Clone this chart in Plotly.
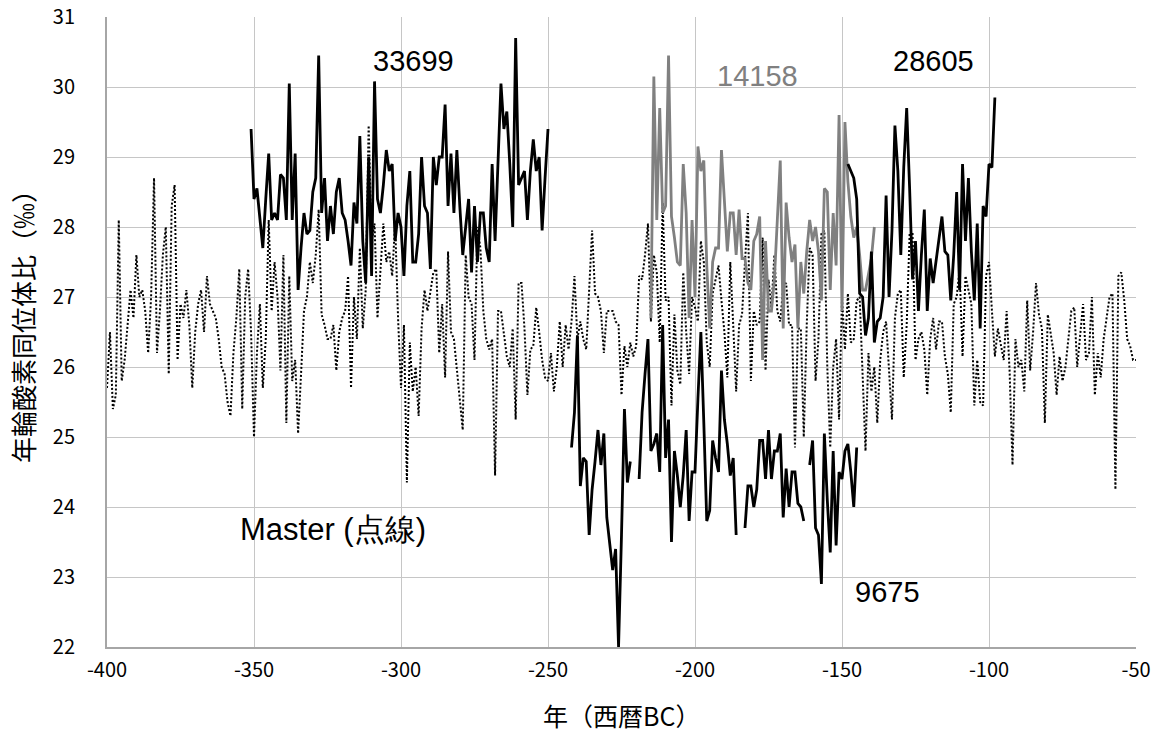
import plotly.graph_objects as go

# ---------------- data ----------------
master_start = -400
master_vals = [
    25.7, 26.5, 25.4, 25.6, 28.1, 25.8, 26.1, 26.6, 27.1, 26.7,   # -400
    27.6, 27.0, 27.1, 26.8, 26.2, 27.0, 28.7, 26.2, 26.8, 27.6,   # -390
    28.0, 25.9, 28.3, 28.6, 26.1, 26.9, 26.7, 27.1, 26.6, 25.7,   # -380
    26.5, 26.9, 27.1, 26.5, 27.3, 26.9, 26.8, 26.7, 26.4, 26.0,   # -370
    25.9, 25.5, 25.3, 26.2, 26.7, 27.4, 25.4, 27.0, 27.4, 26.5,   # -360
    25.0, 26.2, 26.9, 25.7, 26.4, 28.1, 26.8, 27.5, 27.0, 25.95,  # -350
    27.6, 25.2, 27.3, 25.8, 26.1, 25.05, 25.9, 26.8, 27.0, 27.5,  # -340
    27.2, 27.6, 28.25, 26.75, 26.6, 26.4, 26.4, 26.6, 25.95, 26.5,  # -330
    26.7, 26.8, 27.3, 25.7, 27.0, 26.4, 27.7, 26.55, 27.1, 29.45,   # -320
    27.8, 28.05, 26.7, 27.35, 28.05, 27.5, 27.65, 27.3, 28.05, 26.7,  # -310
    25.7, 26.6, 24.35, 26.35, 25.65, 26.0, 25.3, 26.55, 27.1, 26.8,  # -300
    27.1, 27.35, 27.4, 26.2, 26.9, 25.85, 27.65, 26.5, 26.4, 26.0,  # -290
    25.5, 25.1, 27.6, 27.0, 26.9, 26.1, 28.0, 27.7, 26.8, 26.4,   # -280
    26.25, 26.4, 24.45, 26.8, 26.8, 26.5, 26.15, 26.0, 26.55, 25.25,  # -270
    27.2, 27.2, 26.55, 25.6, 26.25, 26.3, 26.85, 26.5, 26.1, 25.85,  # -260
    25.8, 26.2, 25.65, 26.0, 26.65, 26.0, 26.6, 26.25, 26.65, 27.3,  # -250
    26.4, 26.65, 26.4, 26.25, 27.05, 27.95, 27.05, 27.0, 26.8, 26.2,  # -240
    26.8, 26.8, 26.8, 26.65, 26.6, 25.6, 26.3, 26.0, 26.35, 26.15,  # -230
    26.3, 27.3, 27.25, 27.6, 28.05, 26.65, 27.6, 27.35, 26.35, 28.35,  # -220
    26.95, 27.0, 25.45, 26.75, 25.95, 25.75, 27.35, 26.5, 25.9, 27.0,  # -210
    26.85, 26.65, 27.8, 27.5, 26.35, 26.0, 27.05, 27.25, 27.45, 26.95,  # -200
    26.5, 25.85, 27.5, 26.6, 25.65, 26.6, 26.75, 27.5, 28.2, 25.8,  # -190
    26.8, 26.6, 26.65, 27.85, 25.95, 27.25, 26.85, 27.6, 26.8, 26.65,  # -180
    27.15, 27.2, 26.6, 26.6, 24.85, 26.55, 26.55, 25.0, 26.6, 27.7,  # -170
    27.6, 25.8, 26.4, 27.9, 27.95, 26.0, 24.85, 26.0, 26.4, 25.25,  # -160
    27.0, 26.25, 27.05, 26.35, 26.4, 26.95, 27.0, 25.9, 24.8, 26.2,  # -150
    25.65, 26.0, 25.2, 26.1, 26.5, 26.65, 25.95, 25.25, 26.7, 27.05,  # -140
    27.1, 25.85, 26.6, 27.9, 27.9, 26.1, 26.4, 26.5, 26.25, 25.6,  # -130
    26.4, 26.7, 26.25, 26.65, 26.65, 26.15, 25.9, 25.35, 26.9, 27.0,  # -120
    27.4, 26.15, 27.3, 27.1, 26.9, 25.45, 26.1, 25.5, 25.45, 27.3,  # -110
    27.5, 26.8, 26.15, 26.55, 26.35, 26.1, 26.8, 25.95, 24.6, 26.4,  # -100
    26.0, 26.1, 25.65, 26.95, 25.95, 26.5, 27.2, 26.75, 26.55, 25.2,  # -90
    26.75, 26.5, 26.2, 25.6, 26.15, 25.8, 26.0, 26.4, 26.8, 26.85,  # -80
    26.0, 26.45, 26.9, 26.1, 26.2, 27.0, 25.6, 26.2, 25.85, 26.4,  # -70
    26.7, 27.0, 27.05, 24.25, 27.3, 27.35, 26.95, 26.4, 26.3, 26.1,  # -60
    26.1,                                                           # -50
]

s33699_start = -351
s33699_vals = [
    29.4, 28.4, 28.55, 28.1, 27.7, 28.4, 29.05, 28.1, 28.2, 28.1,
    28.75, 28.7, 28.1, 30.05, 28.1, 29.05, 27.1, 27.7, 28.2, 27.9,
    27.95, 28.5, 28.7, 30.45, 28.2, 28.7, 27.8, 28.3, 27.9, 28.5,
    28.7, 28.2, 28.1, 27.8, 27.45, 28.35, 28.05, 29.3, 27.8, 27.2,
    29.0, 27.3, 30.08, 28.4, 28.2, 28.6, 29.1, 28.8, 28.9, 27.8,
    28.2, 28.0, 27.3, 28.3, 28.8, 27.5, 27.5, 27.9, 29.0, 28.3,
    28.2, 27.4, 29.0, 28.6, 29.0, 29.0, 29.75, 28.3, 29.05, 28.2,
    29.1, 28.3, 27.6, 28.0, 28.4, 27.35, 28.3, 27.5, 28.2, 28.2,
    27.7, 27.5, 28.9, 27.8, 29.0, 30.05, 29.4, 29.65, 28.9, 28.0,
    30.7, 28.6, 28.7, 28.8, 28.1, 28.8, 29.25, 28.8, 29.0, 27.95,
    28.7, 29.4,
]

s9675_start = -242
s9675_vals = [
    24.85, 25.35, 26.45, 24.3, 24.7, 24.65, 23.6, 24.25, 24.65, 25.1,
    24.6, 25.05, 23.85, 23.5, 23.1, 23.4, 22.0, 23.6, 25.4, 24.35,
    24.65, None, None, 24.4, 25.35, 25.9, 26.4, 24.8, 24.9, 25.05,
    24.5, 26.6, 24.7, 25.25, 23.5, 24.8, 24.45, 24.0, 24.45, 25.1,
    23.8, 24.5, 24.5, 25.55, 26.5, 25.2, 23.8, 23.95, 24.95, 24.7,
    24.5, 25.95, 25.25, 24.9, 24.45, 24.7, 23.6, None, None, 23.7,
    24.3, 24.3, 24.0, 24.25, 24.95, 24.95, 24.4, 25.1, 24.4, 24.8,
    24.8, 25.05, 23.85, 24.55, 24.0, 24.5, 24.5, 24.05, 24.0, 23.8,
    None, 24.6, 24.95, 23.7, 23.6, 22.9, 25.05, 24.1, 23.35, 24.8,
    23.45, 24.5, 24.4, 24.8, 24.9, 24.5, 24.0, 24.85,
]

s14158_start = -215
s14158_vals = [
    26.7, 30.15, 28.1, 29.7, 28.2, 28.3, 30.45, 28.15, 27.85, 27.5,
    27.45, 28.9, 28.2, 26.7, 28.1, 27.0, 29.15, 28.8, 28.95, 27.45,
    26.55, 27.5, 27.7, 27.7, 29.1, 28.35, 27.65, 28.2, 28.2, 27.6,
    28.25, 27.55, 27.55, 27.2, 27.1, 27.8, 27.9, 28.15, 26.1, 27.8,
    26.8, 26.8, 27.25, 28.1, 28.95, 26.55, 28.35, 27.85, 27.5, 27.75,
    26.55, 27.5, 27.05, 27.65, 28.1, 27.8, 28.0, 27.65, 26.95, 28.55,
    28.5, 27.1, 28.2, 27.45, 29.6, 26.8, 29.5, 28.65, 28.15, 27.85,
    28.0, 27.6, 27.1, 27.1, 27.3, 27.55, 28.0,
]

s28605_start = -148
s28605_vals = [
    28.9, 28.8, 28.7, 28.4, 27.05, 27.0, 26.45, 26.7, 27.65, 26.35,
    26.65, 26.7, 27.0, 28.45, 27.0, 27.95, 29.45, 28.8, 27.6, 28.85,
    29.7, 28.55, 27.25, 27.8, 26.8, 27.6, 28.25, 26.8, 27.55, 27.2,
    27.5, 27.85, 28.15, 27.65, 27.6, 26.95, 27.6, 28.5, 27.1, 28.9,
    27.8, 28.7, 27.65, 26.95, 28.05, 26.55, 28.3, 28.15, 28.9, 28.85,
    29.85,
]

x_ticks = [-400, -350, -300, -250, -200, -150, -100, -50]
x_tick_text = ["-400", "-350", "-300", "-250", "-200", "-150", "-100", "-50"]
y_ticks = [22, 23, 24, 25, 26, 27, 28, 29, 30, 31]

labels = ["33699", "14158", "28605", "9675", "Master (点線)"]
label_x = [-295.6, -178.6, -119.0, -134.5, -323.0]
label_y = [30.37, 30.16, 30.37, 22.78, 23.68]
label_colors = ["#000000", "#808080", "#000000", "#000000", "#000000"]
label_sizes = [29, 29, 29, 29, 31]

x_title = "年（西暦BC）"
y_title = "年輪酸素同位体比（‰）"


def years(start, vals):
    return list(range(start, start + len(vals)))


fig = go.Figure()

fig.add_trace(go.Scatter(
    x=years(master_start, master_vals), y=master_vals, mode="lines",
    name="Master", line=dict(color="#000000", width=2, dash="2px,2px"),
))
fig.add_trace(go.Scatter(
    x=years(s33699_start, s33699_vals), y=s33699_vals, mode="lines",
    name="33699", line=dict(color="#000000", width=2.8),
))
fig.add_trace(go.Scatter(
    x=years(s9675_start, s9675_vals), y=s9675_vals, mode="lines",
    name="9675", line=dict(color="#000000", width=2.8), connectgaps=False,
))
fig.add_trace(go.Scatter(
    x=years(s14158_start, s14158_vals), y=s14158_vals, mode="lines",
    name="14158", line=dict(color="#808080", width=2.8),
))
fig.add_trace(go.Scatter(
    x=years(s28605_start, s28605_vals), y=s28605_vals, mode="lines",
    name="28605", line=dict(color="#000000", width=2.8),
))

for t, lx, ly, c, sz in zip(labels, label_x, label_y, label_colors, label_sizes):
    fig.add_annotation(x=lx, y=ly, text=t, showarrow=False,
                       font=dict(family="Liberation Sans, Arial, sans-serif",
                                 size=sz, color=c),
                       xanchor="center", yanchor="middle")

fig.add_annotation(x=0.5, y=-0.108, xref="paper", yref="paper", text=x_title,
                   showarrow=False, xanchor="center", yanchor="middle",
                   font=dict(family="Noto Sans CJK JP", size=25, color="#000000"))
fig.add_annotation(x=-0.0826, y=0.519, xref="paper", yref="paper", text=y_title,
                   showarrow=False, textangle=-90, xanchor="center", yanchor="middle",
                   font=dict(family="Noto Sans CJK JP", size=26, color="#000000"))

fig.update_layout(
    width=1158, height=740,
    margin=dict(l=107, r=22, t=17, b=93, autoexpand=False),
    paper_bgcolor="#ffffff", plot_bgcolor="#ffffff",
    showlegend=False,
    font=dict(family="Noto Sans CJK JP", size=19, color="#000000"),
)
fig.update_xaxes(
    range=[-400, -50], tickvals=x_ticks, ticktext=x_tick_text,
    showgrid=True, gridcolor="#c6c6c6", gridwidth=1.3, zeroline=False,
    showline=True, linecolor="#a6a6a6", linewidth=2,
    ticks="", ticklabelstandoff=4, automargin=False,
    tickfont=dict(family="Noto Sans CJK JP", size=20, color="#000000"),
)
fig.update_yaxes(
    range=[22, 31], tickvals=y_ticks,
    showgrid=True, gridcolor="#c6c6c6", gridwidth=1.3, zeroline=False,
    showline=True, linecolor="#a6a6a6", linewidth=2,
    ticks="", ticklabelstandoff=26, automargin=False,
    tickfont=dict(family="Noto Sans CJK JP", size=20, color="#000000"),
)

fig.write_html("out.html",
               config={"displayModeBar": False},
               post_script="document.body.style.margin='0';document.body.style.overflow='hidden';")
